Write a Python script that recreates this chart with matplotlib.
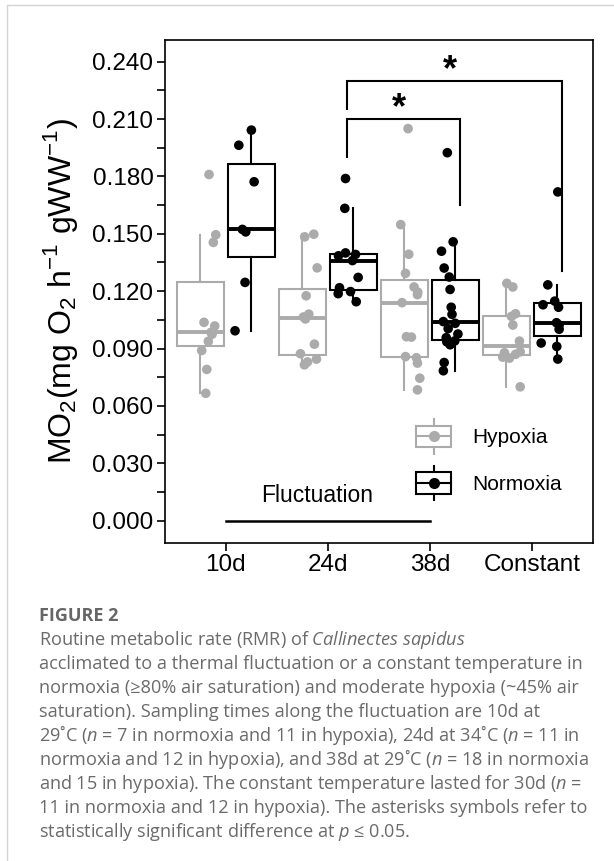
import matplotlib
matplotlib.use("Agg")
import matplotlib.pyplot as plt
import numpy as np
from matplotlib.legend_handler import HandlerBase
from matplotlib.patches import Rectangle
from matplotlib.lines import Line2D

plt.rcParams['font.family'] = ['Liberation Sans', 'DejaVu Sans']
plt.rcParams['mathtext.fontset'] = 'custom'
plt.rcParams['mathtext.rm'] = 'Liberation Sans'
plt.rcParams['mathtext.it'] = 'Open Sans:italic'

# x categories
groups = ["10d", "24d", "38d", "Constant"]

# MO2 values (mg O2 h-1 gWW-1) and the jitter of each dot
hyp_10d = [0.1810, 0.1495, 0.1455, 0.1037, 0.1018, 0.0985, 0.0975, 0.0938, 0.0890, 0.0791, 0.0666]
hyp_10d_jit = [-0.164, -0.098, -0.122, -0.213, -0.108, -0.144, -0.134, -0.171, -0.236, -0.186, -0.196]
nor_10d = [0.2042, 0.1963, 0.1772, 0.1523, 0.1510, 0.1246, 0.0993]
nor_10d_jit = [0.251, 0.128, 0.278, 0.163, 0.196, 0.189, 0.091]

hyp_24d = [0.1498, 0.1484, 0.1322, 0.1176, 0.1080, 0.1065, 0.1055, 0.0923, 0.0873, 0.0845, 0.0830, 0.0815]
hyp_24d_jit = [-0.137, -0.226, -0.104, -0.212, -0.186, -0.238, -0.219, -0.131, -0.268, -0.111, -0.199, -0.229]
nor_24d = [0.1789, 0.1633, 0.1400, 0.1392, 0.1385, 0.1360, 0.1272, 0.1218, 0.1198, 0.1187, 0.1145]
nor_24d_jit = [0.174, 0.167, 0.174, 0.272, 0.105, 0.242, 0.298, 0.115, 0.223, 0.102, 0.279]

hyp_38d = [0.2050, 0.1548, 0.1393, 0.1293, 0.1222, 0.1195, 0.1182, 0.1140, 0.0962, 0.0960,
           0.0858, 0.0852, 0.0824, 0.0745, 0.0684]
hyp_38d_jit = [-0.213, -0.285, -0.206, -0.238, -0.154, -0.118, -0.121, -0.272, -0.229, -0.180,
               -0.238, -0.131, -0.121, -0.098, -0.121]
nor_38d = [0.1924, 0.1458, 0.1409, 0.1321, 0.1274, 0.1209, 0.1116, 0.1079, 0.1041, 0.1032,
           0.1004, 0.0976, 0.0957, 0.0940, 0.0935, 0.0920, 0.0827, 0.0784]
nor_38d_jit = [0.172, 0.229, 0.115, 0.141, 0.191, 0.199, 0.210, 0.218, 0.133, 0.249,
               0.180, 0.276, 0.161, 0.245, 0.167, 0.199, 0.141, 0.133]

hyp_const = [0.1241, 0.1222, 0.1082, 0.1068, 0.1023, 0.0939, 0.0883, 0.0878, 0.0870, 0.0855, 0.0850, 0.0700]
hyp_const_jit = [-0.245, -0.186, -0.160, -0.199, -0.186, -0.121, -0.114, -0.268, -0.160, -0.285, -0.219, -0.114]
nor_const = [0.1719, 0.1233, 0.1148, 0.1129, 0.1116, 0.1035, 0.1023, 0.1001, 0.0929, 0.0911, 0.0845]
nor_const_jit = [0.255, 0.157, 0.225, 0.110, 0.262, 0.242, 0.268, 0.268, 0.092, 0.245, 0.255]

# significance brackets: (x left, x right, y top, left leg end, right leg end)
brackets = [(2.19, 3.30, 0.210, 0.190, 0.165),
            (2.19, 4.30, 0.230, 0.215, 0.1305)]
stars_x = [2.70, 3.20]
stars_y = [0.2193, 0.2393]

caption_lines = [
    "Routine metabolic rate (RMR) of $\\mathit{Callinectes\\ sapidus}$",
    "acclimated to a thermal fluctuation or a constant temperature in",
    "normoxia (\u226580% air saturation) and moderate hypoxia (~45% air",
    "saturation). Sampling times along the fluctuation are 10d at",
    "29\u02daC ($\\mathit{n}$ = 7 in normoxia and 11 in hypoxia), 24d at 34\u02daC ($\\mathit{n}$ = 11 in",
    "normoxia and 12 in hypoxia), and 38d at 29\u02daC ($\\mathit{n}$ = 18 in normoxia",
    "and 15 in hypoxia). The constant temperature lasted for 30d ($\\mathit{n}$ =",
    "11 in normoxia and 12 in hypoxia). The asterisks symbols refer to",
    "statistically significant difference at $\\mathit{p}$ \u2264 0.05.",
]

HYP_COL = "#ABABAB"
NOR_COL = "black"


class BoxKey(HandlerBase):
    # little boxplot glyph for the legend
    def create_artists(self, legend, orig_handle, xdescent, ydescent, width, height, fontsize, trans):
        c = orig_handle.get_color()
        x0, y0 = -xdescent, -ydescent
        cx, cy = x0 + width / 2, y0 + height / 2
        ext = 0.3 * height
        whisk = Line2D([cx, cx], [y0 - ext, y0 + height + ext], color=c, lw=1.5, transform=trans)
        box = Rectangle((x0, y0), width, height, fc="white", ec=c, lw=1.5, transform=trans)
        med = Line2D([x0, x0 + width], [cy, cy], color=c, lw=1.5, transform=trans)
        dot = Line2D([cx], [cy], marker="o", ms=7, color=c, ls="none", transform=trans)
        return [whisk, box, med, dot]


fig = plt.figure(figsize=(6.14, 8.61), dpi=100)
ax = fig.add_axes([0.268, 0.3699, 0.6978, 0.5836])

xpos = np.arange(1, len(groups) + 1)
hyp_data = [hyp_10d, hyp_24d, hyp_38d, hyp_const]
hyp_jit = [hyp_10d_jit, hyp_24d_jit, hyp_38d_jit, hyp_const_jit]
nor_data = [nor_10d, nor_24d, nor_38d, nor_const]
nor_jit = [nor_10d_jit, nor_24d_jit, nor_38d_jit, nor_const_jit]

for data, jit, off, col in [(hyp_data, hyp_jit, -0.25, HYP_COL), (nor_data, nor_jit, 0.25, NOR_COL)]:
    ax.boxplot(data, positions=xpos + off, widths=0.46, showfliers=False, showcaps=False,
               patch_artist=True, manage_ticks=False,
               boxprops=dict(facecolor="none", edgecolor=col, linewidth=1.5),
               whiskerprops=dict(color=col, linewidth=1.5),
               medianprops=dict(color=col, linewidth=2.8))
    for x, vals, j in zip(xpos, data, jit):
        ax.scatter(x + np.array(j), vals, s=48, color=col, edgecolors="none", zorder=3)

# significance brackets and stars
for xl, xr, yt, yl, yr in brackets:
    ax.plot([xl, xl, xr, xr], [yl, yt, yt, yr], color="black", lw=1.5, solid_joinstyle="miter")
for sx, sy in zip(stars_x, stars_y):
    ax.text(sx, sy - 0.0088, "*", fontsize=26, fontweight="bold", ha="center", va="baseline")

# fluctuation period
ax.plot([1, 3], [0, 0], color="black", lw=1.8)
ax.text(1.9, 0.0134, "Fluctuation", fontsize=16.5, ha="center", va="center")

ax.set_xlim(0.4, 4.6)
ax.set_ylim(-0.0114, 0.2513)
ax.set_xticks(xpos)
ax.set_xticklabels(groups)
yt = np.arange(0, 0.2401, 0.03)
ax.set_yticks(yt)
ax.set_yticklabels(["%.3f" % v for v in yt])
ax.set_yticks(yt[:-1] + 0.015, minor=True)
ax.tick_params(axis="both", which="both", direction="out", length=6, width=1.2,
               labelsize=17.5, colors="black", pad=2)
for s in ax.spines.values():
    s.set_linewidth(1.2)
    s.set_color("black")
ax.set_ylabel(r"MO$_2$(mg O$_2$ h$^{-1}$ gWW$^{-1}$)", fontsize=23, labelpad=9)

handles = [Line2D([], [], color=HYP_COL), Line2D([], [], color=NOR_COL)]
ax.legend(handles, ["Hypoxia", "Normoxia"], handler_map={Line2D: BoxKey()}, frameon=False,
          fontsize=15, handlelength=1.7, handleheight=1.2, labelspacing=1.2,
          handletextpad=1.0, loc="upper left", bbox_to_anchor=(0.5865, 0.2324),
          borderpad=0, borderaxespad=0)

# card border and caption
fig.patches.append(Rectangle((7 / 614, -0.1), 2, 1 - 5 / 861 + 0.1, transform=fig.transFigure,
                             fill=False, ec="#d4d4d4", lw=1))
cap_font = ["Open Sans", "DejaVu Sans"]
fig.text(39 / 614, 1 - 621 / 861, "FIGURE 2", fontsize=13, fontweight="bold", color="#666666",
         family=cap_font, va="baseline")
for i, line in enumerate(caption_lines):
    fig.text(39 / 614, 1 - (645 + i * 23.96) / 861, line, fontsize=13.1, color="#6a6a6a",
             family=cap_font, va="baseline")

fig.savefig("out.png", dpi=100)
